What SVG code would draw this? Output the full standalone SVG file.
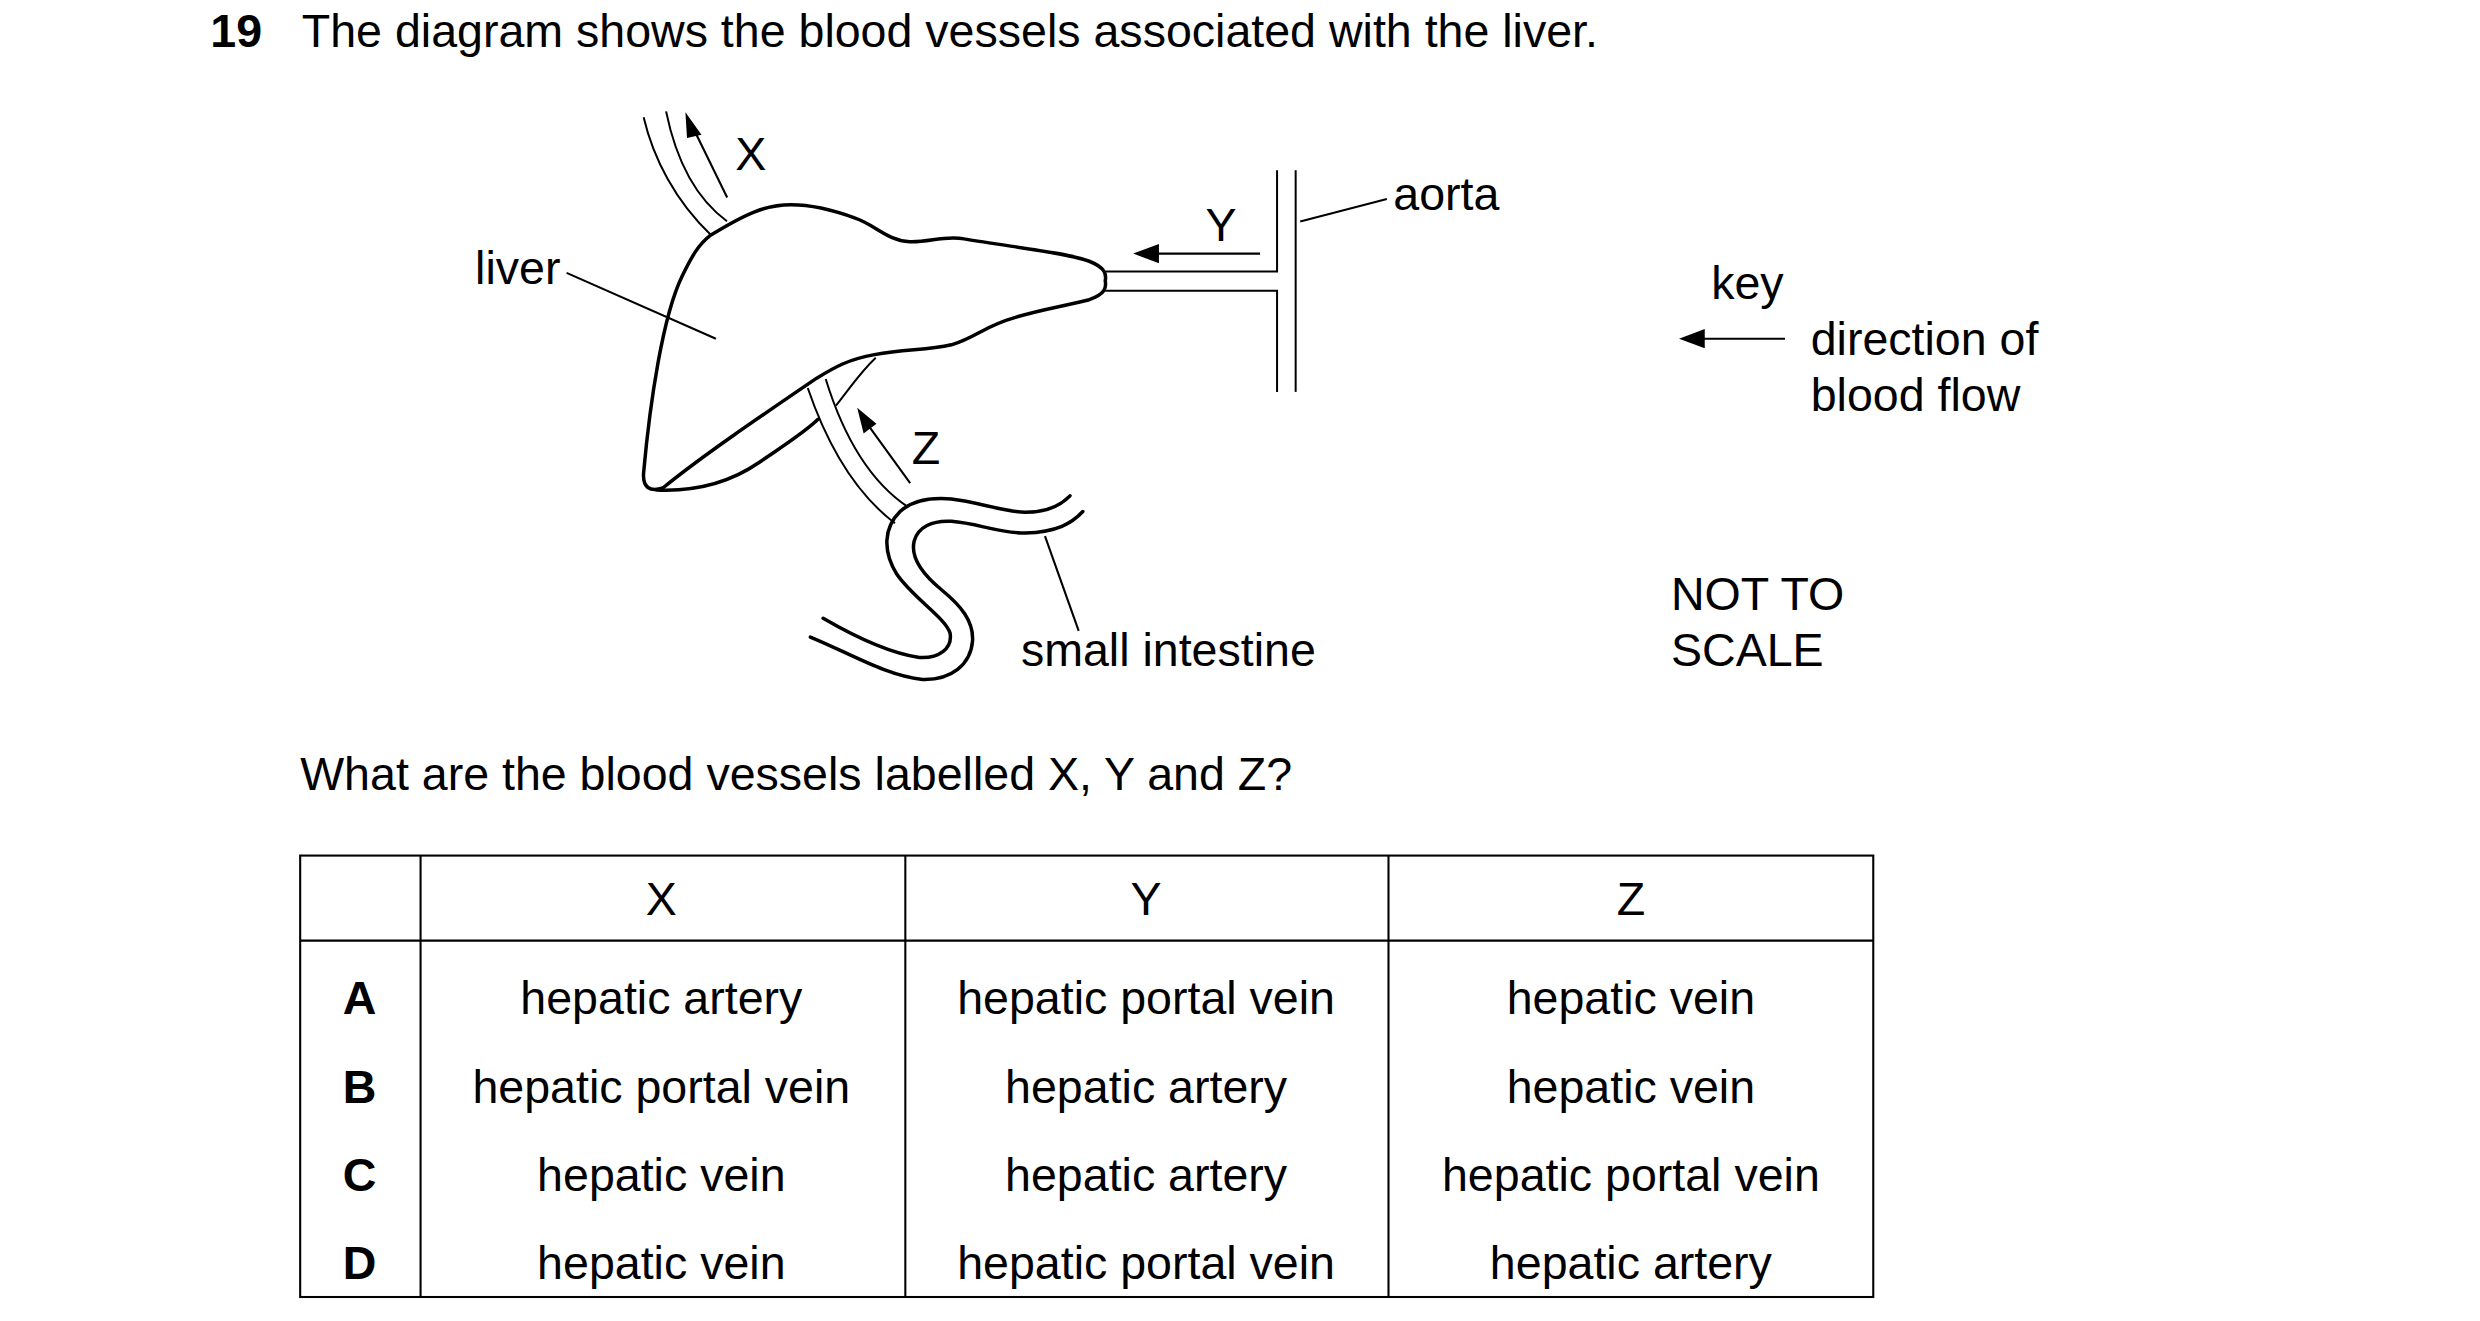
<svg xmlns="http://www.w3.org/2000/svg" width="2480" height="1321" viewBox="0 0 2480 1321">
<style>
text{font-family:"Liberation Sans",Arial,sans-serif;font-size:29px;fill:#000}
.c{text-anchor:middle}
.b{font-weight:bold}
.ln{fill:none;stroke:#000;stroke-width:3.5;vector-effect:non-scaling-stroke;stroke-linecap:round;stroke-linejoin:round}
.th{fill:none;stroke:#000;stroke-width:2;vector-effect:non-scaling-stroke}
.t{stroke:#000;stroke-width:1.3;fill:none}
</style>
<rect width="2480" height="1321" fill="#fff"/>
<g transform="scale(1.6052)">
<text x="131" y="29" class="b">19</text>
<text x="188" y="29">The diagram shows the blood vessels associated with the liver.</text>

<g id="diagram" transform="translate(249.2,49.84) scale(0.3994,0.2444)">
 <g id="liver">
  <path class="ln" d="M485,395 C540,340 570,318 610,318 C650,318 690,340 710,352 C740,368 760,410 795,412 C825,414 850,395 880,405 C950,425 1040,440 1075,462 C1100,478 1102,495 1100,512 C1102,530 1100,545 1075,560 C1040,575 1000,585 960,605 C910,628 900,655 860,675 C820,690 790,685 740,700 C700,712 680,730 650,760 C560,860 470,960 410,1040 C390,1050 378,1040 380,1000 C390,820 410,600 440,500 C455,450 465,420 485,395 Z"/>
  <path class="ln" d="M400,1045 C470,1050 520,1020 560,975 C600,930 630,900 652,865"/>
 </g>
 <g id="vessel-x">
  <path class="th" d="M380,95 C395,200 430,310 485,395"/>
  <path class="th" d="M415,80 C430,200 460,300 510,360"/>
 </g>
 <g id="aorta">
  <path class="th" d="M1100,488 L1368,488 L1368,230"/>
  <path class="th" d="M1100,537 L1368,537 L1368,795"/>
  <path class="th" d="M1397,230 L1397,795"/>
 </g>
 <g id="vessel-z">
  <path class="th" d="M636,785 C660,900 700,1040 772,1130"/>
  <path class="th" d="M664,762 C690,900 730,1020 792,1088"/>
  <path class="th" d="M742,708 C715,750 700,790 680,830"/>
 </g>
 <g id="intestine">
  <path class="ln" d="M1045,1060 C1030,1085 1010,1102 975,1102 C940,1100 900,1075 860,1068 C830,1064 800,1070 780,1100 C755,1140 752,1200 775,1260 C800,1320 850,1370 858,1410 C862,1450 840,1475 810,1472 C760,1460 700,1410 660,1372"/>
  <path class="ln" d="M1065,1100 C1048,1130 1025,1152 975,1155 C935,1155 900,1130 860,1125 C830,1122 808,1140 802,1175 C796,1215 815,1260 845,1300 C875,1340 895,1380 893,1430 C890,1490 860,1530 815,1528 C760,1520 700,1460 640,1420"/>
 </g>
</g>

<g id="connectors">
 <line class="t" x1="453" y1="123" x2="431" y2="78" stroke-width="2.5"/>
 <polygon points="427,70 437,84 428,86"/>
 <line class="t" x1="567" y1="301" x2="538" y2="261" stroke-width="2.5"/>
 <polygon points="534,254 546,264 538,270"/>
 <line class="t" x1="785" y1="158" x2="718" y2="158" stroke-width="3"/>
 <polygon points="706,158 722,152 722,164"/>
 <line class="t" x1="1112" y1="211" x2="1058" y2="211" stroke-width="3"/>
 <polygon points="1046,211 1062,205 1062,217"/>
 <line class="t" x1="353" y1="170" x2="446" y2="211"/>
 <line class="t" x1="810" y1="138" x2="864" y2="124"/>
 <line class="t" x1="651" y1="334" x2="672" y2="393"/>
</g>

<text x="458" y="106">X</text>
<text x="751" y="150">Y</text>
<text x="568" y="289">Z</text>
<text x="296" y="177">liver</text>
<text x="868" y="131">aorta</text>
<text x="636" y="415">small intestine</text>

<g id="key">
 <text x="1066" y="186">key</text>
 <text x="1128" y="221">direction of</text>
 <text x="1128" y="256">blood flow</text>
</g>
<text x="1041" y="380">NOT TO</text>
<text x="1041" y="415">SCALE</text>

<text x="187" y="492">What are the blood vessels labelled X, Y and Z?</text>

<g id="table" stroke="#000" stroke-width="1.3" fill="none">
 <rect x="187" y="533" width="980" height="275"/>
 <line x1="187" y1="586" x2="1167" y2="586"/>
 <line x1="262" y1="533" x2="262" y2="808"/>
 <line x1="564" y1="533" x2="564" y2="808"/>
 <line x1="865" y1="533" x2="865" y2="808"/>
</g>
<g>
 <text x="412" y="570" class="c">X</text>
 <text x="714" y="570" class="c">Y</text>
 <text x="1016" y="570" class="c">Z</text>
 <text x="224" y="632" class="c b">A</text>
 <text x="224" y="687" class="c b">B</text>
 <text x="224" y="742" class="c b">C</text>
 <text x="224" y="797" class="c b">D</text>
 <text x="412" y="632" class="c">hepatic artery</text>
 <text x="714" y="632" class="c">hepatic portal vein</text>
 <text x="1016" y="632" class="c">hepatic vein</text>
 <text x="412" y="687" class="c">hepatic portal vein</text>
 <text x="714" y="687" class="c">hepatic artery</text>
 <text x="1016" y="687" class="c">hepatic vein</text>
 <text x="412" y="742" class="c">hepatic vein</text>
 <text x="714" y="742" class="c">hepatic artery</text>
 <text x="1016" y="742" class="c">hepatic portal vein</text>
 <text x="412" y="797" class="c">hepatic vein</text>
 <text x="714" y="797" class="c">hepatic portal vein</text>
 <text x="1016" y="797" class="c">hepatic artery</text>
</g>
</g>
</svg>
